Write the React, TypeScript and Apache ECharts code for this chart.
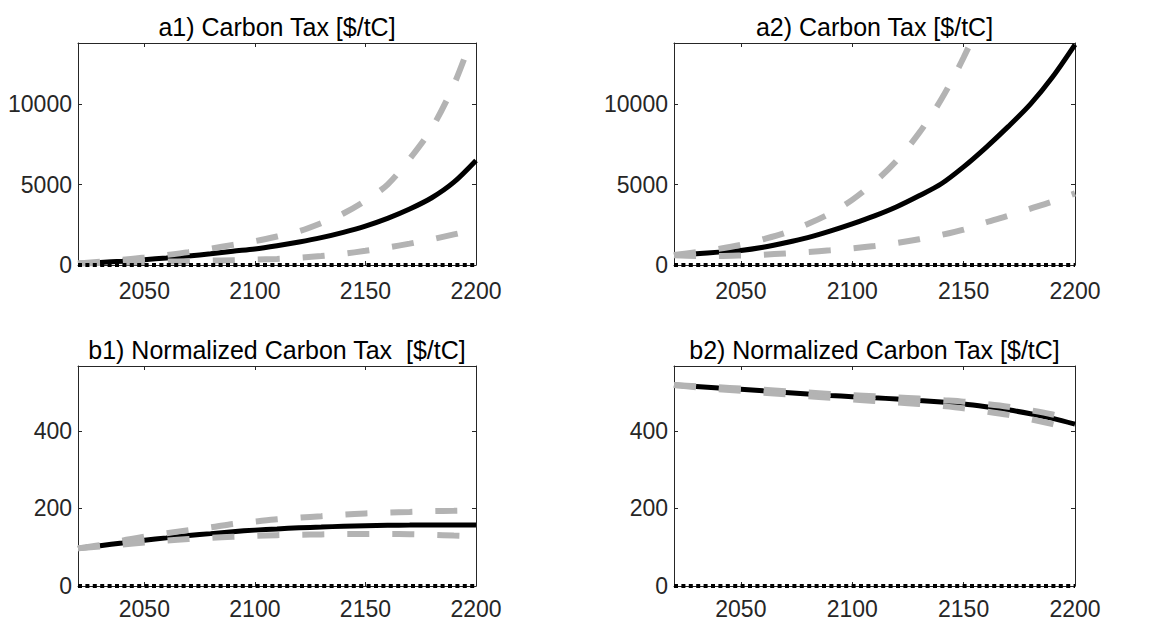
import React, { useEffect, useRef } from "react";
import * as echarts from "echarts";

// Years sampled every decade
const YEARS = [
  2020, 2030, 2040, 2050, 2060, 2070, 2080, 2090, 2100, 2110,
  2120, 2130, 2140, 2150, 2160, 2170, 2180, 2190, 2200,
];

// a1) Carbon tax [$/tC]
const A1_CENTRAL = [100, 160, 240, 330, 440, 560, 700, 860, 1000, 1200, 1430, 1700, 2030, 2420, 2900, 3480, 4180, 5150, 6500];
const A1_HIGH = [100, 200, 320, 460, 620, 800, 1020, 1250, 1480, 1770, 2100, 2600, 3200, 4000, 5000, 6600, 8500, 11200, 14800];
const A1_LOW = [100, 120, 150, 180, 210, 240, 270, 300, 330, 380, 450, 560, 700, 880, 1090, 1330, 1600, 1900, 2200];

// a2) Carbon tax [$/tC]
const A2_CENTRAL = [600, 700, 800, 900, 1100, 1380, 1700, 2100, 2550, 3050, 3620, 4300, 5050, 6100, 7300, 8600, 10000, 11700, 13700];
const A2_HIGH = [620, 800, 1000, 1250, 1600, 2000, 2550, 3200, 4050, 5150, 6500, 8200, 10300, 12900, 16000, 20000, 25000, 31000, 38000];
const A2_LOW = [600, 560, 560, 590, 640, 720, 810, 910, 1030, 1180, 1370, 1600, 1870, 2200, 2650, 3050, 3500, 3950, 4450];

// b1) Normalized carbon tax [$/tC]
const B1_CENTRAL = [97, 104, 111, 118, 124, 130, 135, 140, 144, 147, 150, 152, 154, 155.5, 156.5, 157, 157.5, 157.5, 157];
const B1_HIGH = [97, 105, 117, 127, 136, 144, 151, 160, 166, 172, 176, 180, 184, 187, 189, 191, 193, 194, 195];
const B1_LOW = [97, 102, 107, 112, 117, 121, 124, 127, 129, 131, 132, 133, 134, 134, 134, 133.5, 132, 130, 128];

// b2) Normalized carbon tax [$/tC]
const B2_CENTRAL = [518, 514, 510, 507, 503, 499, 495, 491, 488, 485, 482, 478, 474, 469, 462, 454, 444, 432, 417];
const B2_HIGH = [518, 515, 512, 509, 506, 502, 499, 495, 492, 489, 486, 483, 479, 475, 469, 462, 453, 442, 428];
const B2_LOW = [518, 512, 507, 503, 498, 494, 489, 485, 481, 477, 473, 469, 464, 458, 450, 441, 430, 417, 402];

// Zero reference
const ZERO = [0, 0, 0, 0, 0, 0, 0, 0, 0, 0, 0, 0, 0, 0, 0, 0, 0, 0, 0];

const X_TICKS = [2050, 2100, 2150, 2200];
const TAX_TICKS = [0, 5000, 10000];
const NORM_TICKS = [0, 200, 400];
const TAX_MAX = 13800;
const NORM_MAX = 567;

const TITLES = [
  "a1) Carbon Tax [$/tC]",
  "a2) Carbon Tax [$/tC]",
  "b1) Normalized Carbon Tax  [$/tC]",
  "b2) Normalized Carbon Tax [$/tC]",
];

const FONT = '"Liberation Sans", Arial, Helvetica, sans-serif';
const AXIS_COLOR = "#262626";
const GRAY = "#b3b3b3";
const TICK_FONT = 23;

const PANELS = [
  { left: 78, top: 43, width: 398, height: 222, labelMargin: 18, central: A1_CENTRAL, high: A1_HIGH, low: A1_LOW, yMax: TAX_MAX, yTicks: TAX_TICKS },
  { left: 674, top: 43, width: 401, height: 222, labelMargin: 18, central: A2_CENTRAL, high: A2_HIGH, low: A2_LOW, yMax: TAX_MAX, yTicks: TAX_TICKS },
  { left: 78, top: 366, width: 398, height: 220, labelMargin: 15, central: B1_CENTRAL, high: B1_HIGH, low: B1_LOW, yMax: NORM_MAX, yTicks: NORM_TICKS },
  { left: 674, top: 366, width: 401, height: 220, labelMargin: 15, central: B2_CENTRAL, high: B2_HIGH, low: B2_LOW, yMax: NORM_MAX, yTicks: NORM_TICKS },
];

const pairs = (vals: number[]) => YEARS.map((y, i) => [y, vals[i]]);
const plain = (v: number) => String(v);

function buildOption() {
  const grid: any[] = [];
  const xAxis: any[] = [];
  const yAxis: any[] = [];
  const series: any[] = [];
  const graphic: any[] = [];

  PANELS.forEach((p, gi) => {
    grid.push({
      left: p.left,
      top: p.top,
      width: p.width,
      height: p.height,
      containLabel: false,
      outerBoundsMode: "none",
    });

    const axisLine = { show: true, onZero: false, lineStyle: { color: AXIS_COLOR, width: 1 } };
    const tick = (vals: number[]) => ({
      show: true,
      inside: true,
      length: 4,
      customValues: vals,
      lineStyle: { color: AXIS_COLOR, width: 1 },
    });

    // bottom x axis with labels
    xAxis.push({
      type: "value",
      gridIndex: gi,
      position: "bottom",
      min: 2020,
      max: 2200,
      axisLine,
      axisTick: tick(X_TICKS),
      axisLabel: {
        show: true,
        customValues: X_TICKS,
        formatter: plain,
        color: AXIS_COLOR,
        fontSize: TICK_FONT,
        fontFamily: FONT,
        lineHeight: 16,
        margin: p.labelMargin,
      },
      splitLine: { show: false },
    });
    // top x axis: box edge with ticks only
    xAxis.push({
      type: "value",
      gridIndex: gi,
      position: "top",
      min: 2020,
      max: 2200,
      axisLine,
      axisTick: tick(X_TICKS),
      axisLabel: { show: false, customValues: X_TICKS },
      splitLine: { show: false },
    });
    // left y axis with labels
    yAxis.push({
      type: "value",
      gridIndex: gi,
      position: "left",
      min: 0,
      max: p.yMax,
      axisLine,
      axisTick: tick(p.yTicks),
      axisLabel: {
        show: true,
        customValues: p.yTicks,
        formatter: plain,
        color: AXIS_COLOR,
        fontSize: TICK_FONT,
        fontFamily: FONT,
        margin: 6,
      },
      splitLine: { show: false },
    });
    // right y axis: box edge with ticks only
    yAxis.push({
      type: "value",
      gridIndex: gi,
      position: "right",
      min: 0,
      max: p.yMax,
      axisLine,
      axisTick: tick(p.yTicks),
      axisLabel: { show: false, customValues: p.yTicks },
      splitLine: { show: false },
    });

    const xi = gi * 2;
    const yi = gi * 2;
    const base = {
      type: "line",
      xAxisIndex: xi,
      yAxisIndex: yi,
      showSymbol: false,
      symbol: "none",
      clip: true,
      smooth: 0.3,
    };

    series.push({
      ...base,
      name: `central-${gi}`,
      data: pairs(p.central),
      lineStyle: { color: "#000000", width: 5 },
      z: 2,
    });
    series.push({
      ...base,
      name: `high-${gi}`,
      data: pairs(p.high),
      lineStyle: { color: GRAY, width: 6, type: [22, 23], cap: "butt" },
      z: 3,
    });
    series.push({
      ...base,
      name: `low-${gi}`,
      data: pairs(p.low),
      lineStyle: { color: GRAY, width: 6, type: [22, 23], cap: "butt" },
      z: 3,
    });
    series.push({
      ...base,
      smooth: false,
      clip: false,
      name: `zero-${gi}`,
      data: pairs(ZERO),
      lineStyle: { color: "#000000", width: 4, type: [4, 3.4], cap: "butt" },
      z: 4,
    });

    graphic.push({
      type: "text",
      x: p.left + p.width / 2,
      y: p.top - 16,
      style: {
        text: TITLES[gi],
        fill: "#000000",
        font: `25px ${FONT}`,
        align: "center",
        verticalAlign: "middle",
      },
    });
  });

  return {
    animation: false,
    backgroundColor: "#ffffff",
    grid,
    xAxis,
    yAxis,
    series,
    graphic,
  };
}

export default function App() {
  const ref = useRef<HTMLDivElement>(null);

  useEffect(() => {
    if (!ref.current) return;
    const chart = echarts.init(ref.current, undefined, { renderer: "svg" });
    chart.setOption(buildOption() as any);
    return () => chart.dispose();
  }, []);

  return (
    <div
      ref={ref}
      style={{ position: "absolute", left: 0, top: 0, width: 1168, height: 622, background: "#fff" }}
    />
  );
}
